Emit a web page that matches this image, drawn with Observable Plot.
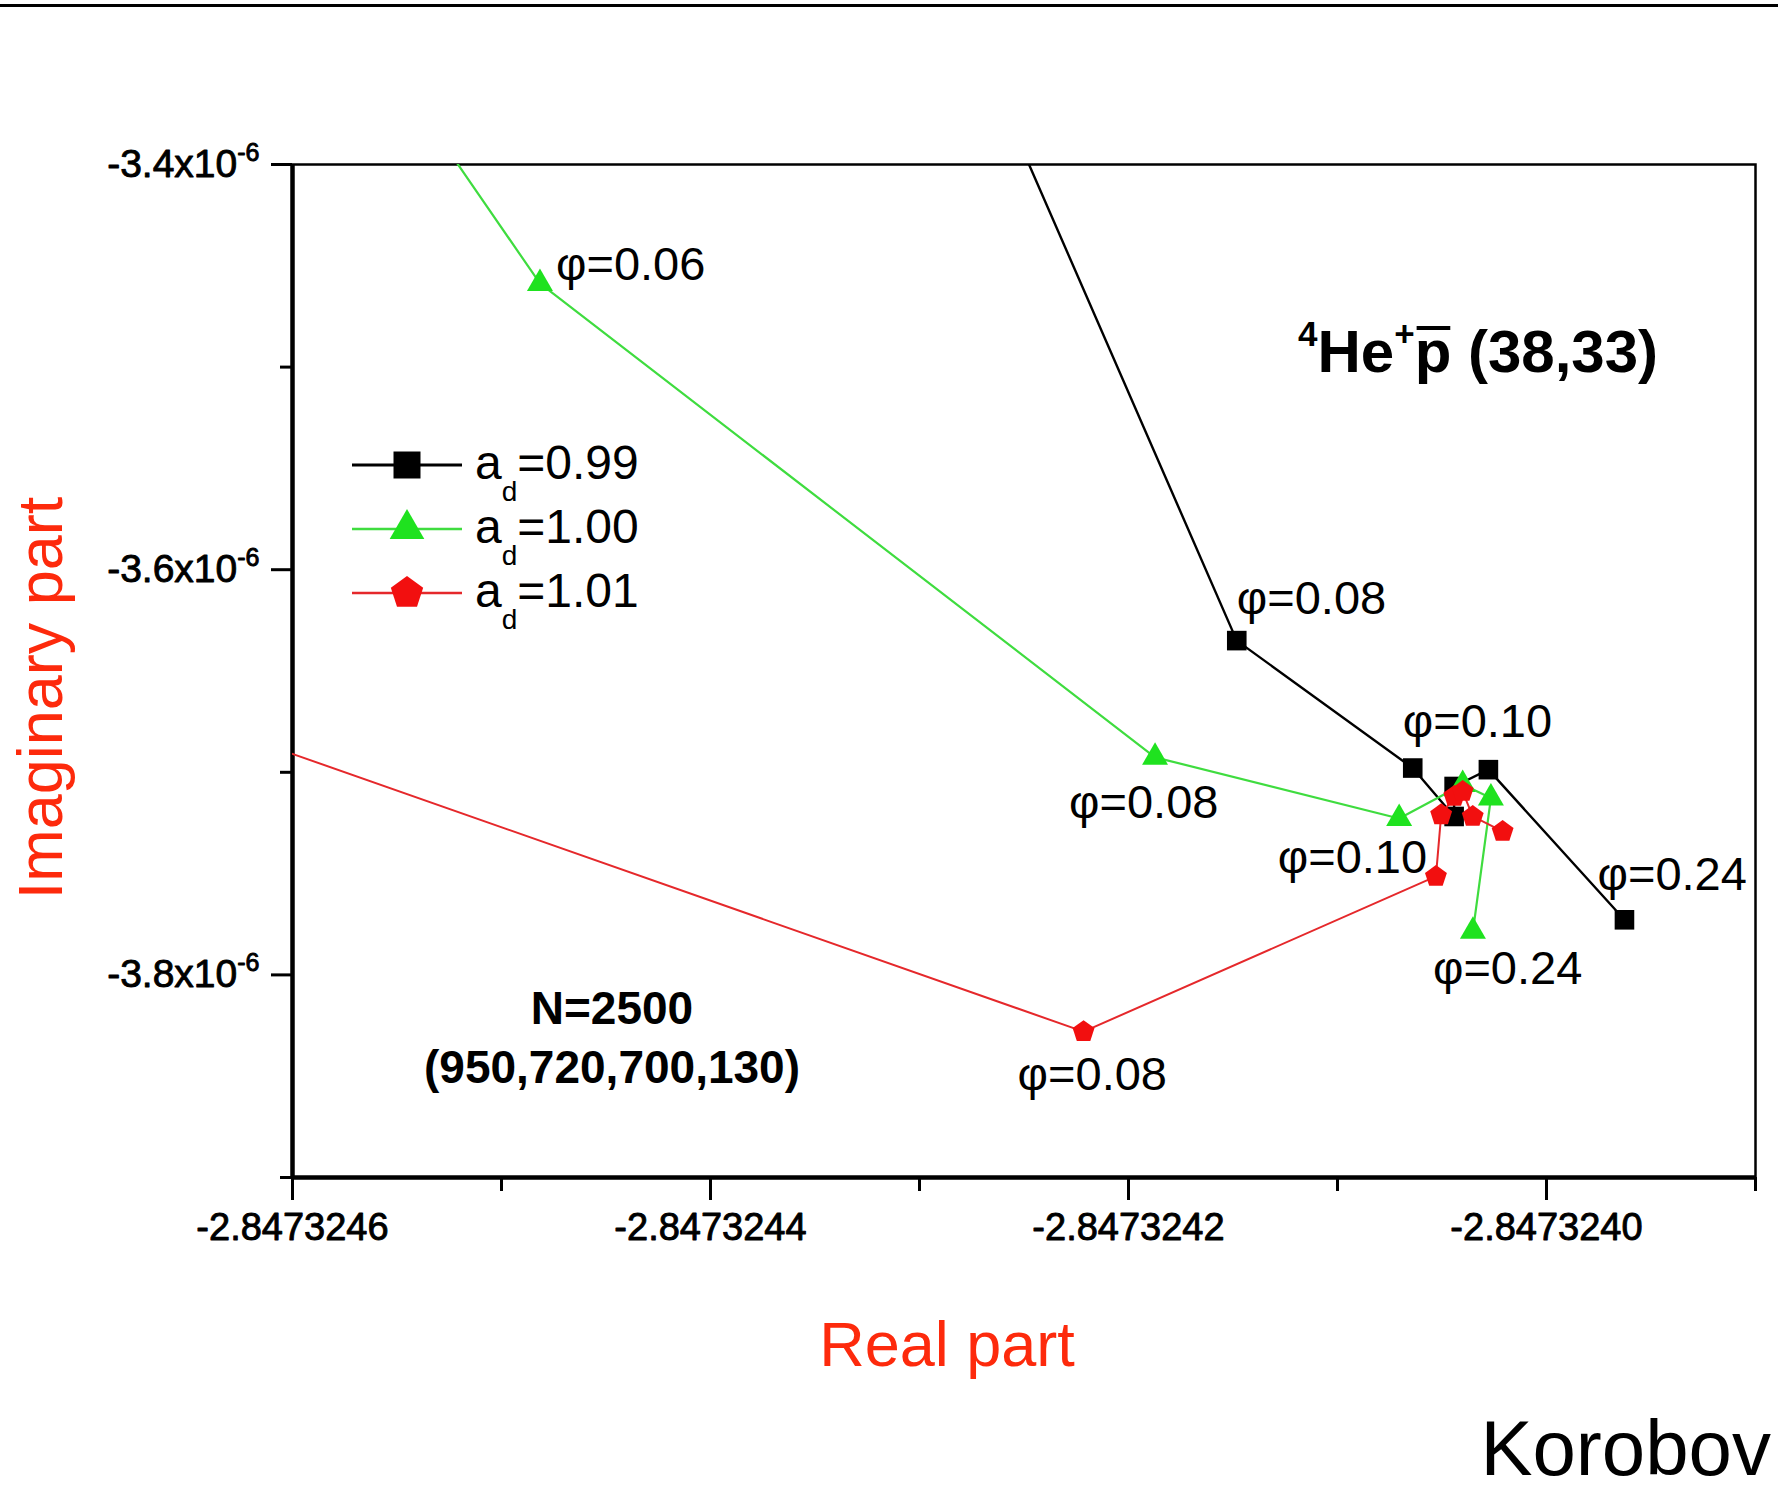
<!DOCTYPE html>
<html>
<head>
<meta charset="utf-8">
<script src="https://cdn.jsdelivr.net/npm/d3@7"></script>
<script src="https://cdn.jsdelivr.net/npm/@observablehq/plot@0.6"></script>
<style>
  html, body { margin: 0; padding: 0; background: #fff; }
  #fig { position: relative; width: 1778px; height: 1506px; overflow: hidden; background: #fff;
         font-family: "Liberation Sans", Arial, Helvetica, sans-serif; }
  #topline { position: absolute; left: 0; top: 4px; width: 1778px; height: 3px; background: #000; }
  #fig > svg { position: absolute; left: 0; top: 0; }
</style>
</head>
<body>
<div id="fig"><div id="topline"></div></div>
<script>
// ---------------- data ----------------
const seriesNames = ["0.99", "1.00", "1.01"];

// a_d = 0.99 (first point lies above the frame, the line enters from the top)
const re099 = [-2.8473242899, -2.8473241482, -2.8473240640, -2.8473240442, -2.8473240442, -2.8473240278, -2.8473239627];
const im099 = [-3.3000e-6, -3.6350e-6, -3.6979e-6, -3.7218e-6, -3.7070e-6, -3.6987e-6, -3.7728e-6];

// a_d = 1.00 (first point lies above the frame)
const re100 = [-2.8473245876, -2.8473244816, -2.8473241873, -2.8473240705, -2.8473240401, -2.8473240266, -2.8473240352];
const im100 = [-3.3000e-6, -3.4587e-6, -3.6926e-6, -3.7228e-6, -3.7060e-6, -3.7127e-6, -3.7785e-6];

// a_d = 1.01 (first point lies left of the frame)
const re101 = [-2.8473247000, -2.8473242215, -2.8473240529, -2.8473240504, -2.8473240441, -2.8473240401, -2.8473240353, -2.8473240210];
const im101 = [-3.6547e-6, -3.8280e-6, -3.7514e-6, -3.7210e-6, -3.7119e-6, -3.7095e-6, -3.7218e-6, -3.7292e-6];

// phi annotations: which series, which point, what text
const phiSeries = ["1.00", "0.99", "1.00", "0.99", "1.00", "0.99", "1.00", "1.01"];
const phiIndex  = [1, 1, 2, 2, 3, 6, 6, 1];
const phiText   = ["φ=0.06", "φ=0.08", "φ=0.08", "φ=0.10", "φ=0.10", "φ=0.24", "φ=0.24", "φ=0.08"];

// axes
const xDomain = [-2.8473246, -2.8473239];
const yDomain = [-3.9e-6, -3.4e-6];
const xMajorTicks = [-2.8473246, -2.8473244, -2.8473242, -2.8473240];
const xMinorTicks = [-2.8473245, -2.8473243, -2.8473241, -2.8473239];
const yMajorTicks = [-3.4e-6, -3.6e-6, -3.8e-6];
const yMinorTicks = [-3.5e-6, -3.7e-6, -3.9e-6];

const xTitle = "Real part";
const yTitle = "Imaginary part";
const systemLabel = ["4", "He", "+", "p", " (38,33)"];
const basisLabel = ["N=2500", "(950,720,700,130)"];
const credit = "Korobov";

// ---------------- styling ----------------
const FONT = '"Liberation Sans", Arial, Helvetica, sans-serif';
const TITLE_RED = "#fd2a0c";

const symSquare = { draw(ctx, size) { const r = Math.sqrt(size / Math.PI); ctx.rect(-r, -r, 2 * r, 2 * r); } };
const symTriangle = { draw(ctx, size) {
  const r = Math.sqrt(size / Math.PI), h = r * Math.sqrt(3) / 2;
  ctx.moveTo(0, -r); ctx.lineTo(h, r / 2); ctx.lineTo(-h, r / 2); ctx.closePath(); } };
const symPentagon = { draw(ctx, size) {
  const r = Math.sqrt(size / Math.PI);
  for (let k = 0; k < 5; k++) {
    const a = -Math.PI / 2 + k * 2 * Math.PI / 5;
    if (k === 0) ctx.moveTo(r * Math.cos(a), r * Math.sin(a)); else ctx.lineTo(r * Math.cos(a), r * Math.sin(a));
  }
  ctx.closePath(); } };

const style = {
  "0.99": { line: "#000000", fill: "#000000", width: 2.4, symbol: symSquare, r: 9.8, legendR: 13.5 },
  "1.00": { line: "#3fdc3f", fill: "#1fe21f", width: 2.2, symbol: symTriangle, r: 15, legendR: 20 },
  "1.01": { line: "#e5282b", fill: "#f20f0f", width: 2.0, symbol: symPentagon, r: 11.5, legendR: 17 }
};

const table = [];
[[seriesNames[0], re099, im099], [seriesNames[1], re100, im100], [seriesNames[2], re101, im101]].forEach(([s, re, im]) => {
  re.forEach((v, i) => table.push({ series: s, i, re: v, im: im[i] }));
});
const pt = (s, i) => table.find(d => d.series === s && d.i === i);

// label offsets (pixels) for the phi annotations, in the same order
const phiLayout = [
  { dx: 16, dy: -18, anchor: "start" },
  { dx: 0, dy: -42, anchor: "start" },
  { dx: -86, dy: 46, anchor: "start" },
  { dx: -10, dy: -46, anchor: "start" },
  { dx: 28, dy: 39, anchor: "end" },
  { dx: -27, dy: -45, anchor: "start" },
  { dx: -40, dy: 38, anchor: "start" },
  { dx: -66, dy: 43, anchor: "start" }
];

const seriesMarks = seriesNames.flatMap(s => {
  const st = style[s];
  const data = table.filter(d => d.series === s);
  return [
    Plot.line(data, { x: "re", y: "im", stroke: st.line, strokeWidth: st.width, clip: true }),
    Plot.dot(data, { x: "re", y: "im", symbol: st.symbol, r: st.r, fill: st.fill, stroke: "none", clip: true })
  ];
});

const labelMarks = phiText.map((t, k) => {
  const L = phiLayout[k];
  return Plot.text([pt(phiSeries[k], phiIndex[k])], {
    x: "re", y: "im", text: () => t, dx: L.dx, dy: L.dy, textAnchor: L.anchor,
    fontSize: 47, fill: "#000"
  });
});

const plot = Plot.plot({
  width: 1778, height: 1290,
  marginLeft: 292, marginRight: 23, marginTop: 164, marginBottom: 113,
  x: { domain: xDomain },
  y: { domain: yDomain },
  style: { fontFamily: FONT, background: "transparent", color: "#000", overflow: "visible" },
  marks: [
    Plot.frame({ stroke: "#000", strokeWidth: 2.5 }),
    Plot.ruleX([xDomain[0]], { stroke: "#000", strokeWidth: 4.5 }),
    Plot.ruleY([yDomain[0]], { stroke: "#000", strokeWidth: 4.5 }),
    ...seriesMarks,
    ...labelMarks,
    Plot.axisX({ ticks: xMajorTicks, tickSize: 23, tickPadding: 13, strokeWidth: 3,
      tickFormat: d => d.toFixed(7), fontSize: 38, textStroke: "#000", textStrokeWidth: 0.9, label: null }),
    Plot.axisX({ ticks: xMinorTicks, tickSize: 14, strokeWidth: 3, fill: "none", label: null }),
    Plot.axisY({ ticks: yMajorTicks, tickSize: 21, tickPadding: 12, strokeWidth: 3,
      tickFormat: d => (d * 1e6).toFixed(1) + "x10^-6", fontSize: 39, textStroke: "#000", textStrokeWidth: 0.9, label: null }),
    Plot.axisY({ ticks: yMinorTicks, tickSize: 12, strokeWidth: 3, fill: "none", label: null })
  ]
});
document.getElementById("fig").appendChild(plot);

// superscript exponents in y tick labels
const NS = "http://www.w3.org/2000/svg";
plot.querySelectorAll('[aria-label="y-axis tick label"] text').forEach(t => {
  const s = t.textContent;
  const parts = s.split("^");
  if (parts.length < 2) return;
  t.textContent = "";
  const a = document.createElementNS(NS, "tspan"); a.textContent = parts[0];
  const b = document.createElementNS(NS, "tspan"); b.textContent = parts[1];
  b.setAttribute("font-size", "25"); b.setAttribute("dy", "-16");
  t.appendChild(a); t.appendChild(b);
});

// ---------------- annotations overlay ----------------
const ov = d3.select("#fig").append("svg")
  .attr("width", 1778).attr("height", 1506)
  .attr("font-family", FONT)
  .style("pointer-events", "none");

// axis titles
ov.append("text").attr("transform", "translate(62,698) rotate(-90)")
  .attr("text-anchor", "middle").attr("font-size", 63).attr("fill", TITLE_RED).text(yTitle);
ov.append("text").attr("x", 947).attr("y", 1366)
  .attr("text-anchor", "middle").attr("font-size", 63).attr("fill", TITLE_RED).text(xTitle);
ov.append("text").attr("x", 1771).attr("y", 1475)
  .attr("text-anchor", "end").attr("font-size", 78).attr("fill", "#000").text(credit);

// legend
seriesNames.forEach((s, i) => {
  const st = style[s];
  const cy = 465 + i * 64;
  ov.append("line").attr("x1", 352).attr("x2", 462).attr("y1", cy).attr("y2", cy)
    .attr("stroke", st.line).attr("stroke-width", st.width + 0.4);
  ov.append("path").attr("transform", `translate(407,${cy})`)
    .attr("d", d3.symbol(st.symbol, st.legendR * st.legendR * Math.PI)()).attr("fill", st.fill);
  const t = ov.append("text").attr("x", 475).attr("y", cy + 14).attr("font-size", 48).attr("fill", "#000");
  t.append("tspan").text("a");
  t.append("tspan").attr("font-size", 28).attr("dy", 22).text("d");
  t.append("tspan").attr("dy", -22).text("=" + s);
});

// system label  4He+ p-bar (38,33)
{
  const t = ov.append("text").attr("x", 1298).attr("y", 372).attr("font-size", 60)
    .attr("font-weight", "bold").attr("fill", "#000");
  t.append("tspan").attr("font-size", 35).attr("dy", -26).text(systemLabel[0]);
  t.append("tspan").attr("dy", 26).text(systemLabel[1]);
  t.append("tspan").attr("font-size", 35).attr("dy", -26).text(systemLabel[2]);
  t.append("tspan").attr("dy", 26).text(systemLabel[3]);
  t.append("tspan").text(systemLabel[4]);
  const node = t.node();
  const idx = (systemLabel[0] + systemLabel[1] + systemLabel[2]).length;
  try {
    const p0 = node.getStartPositionOfChar(idx), p1 = node.getEndPositionOfChar(idx);
    ov.append("line").attr("x1", p0.x + 2).attr("x2", p1.x - 1).attr("y1", 328).attr("y2", 328)
      .attr("stroke", "#000").attr("stroke-width", 4);
  } catch (e) {}
}

// basis label
basisLabel.forEach((line, k) => {
  ov.append("text").attr("x", 612).attr("y", 1024 + k * 59).attr("text-anchor", "middle")
    .attr("font-size", 46).attr("font-weight", "bold").attr("fill", "#000").text(line);
});
</script>
</body>
</html>
